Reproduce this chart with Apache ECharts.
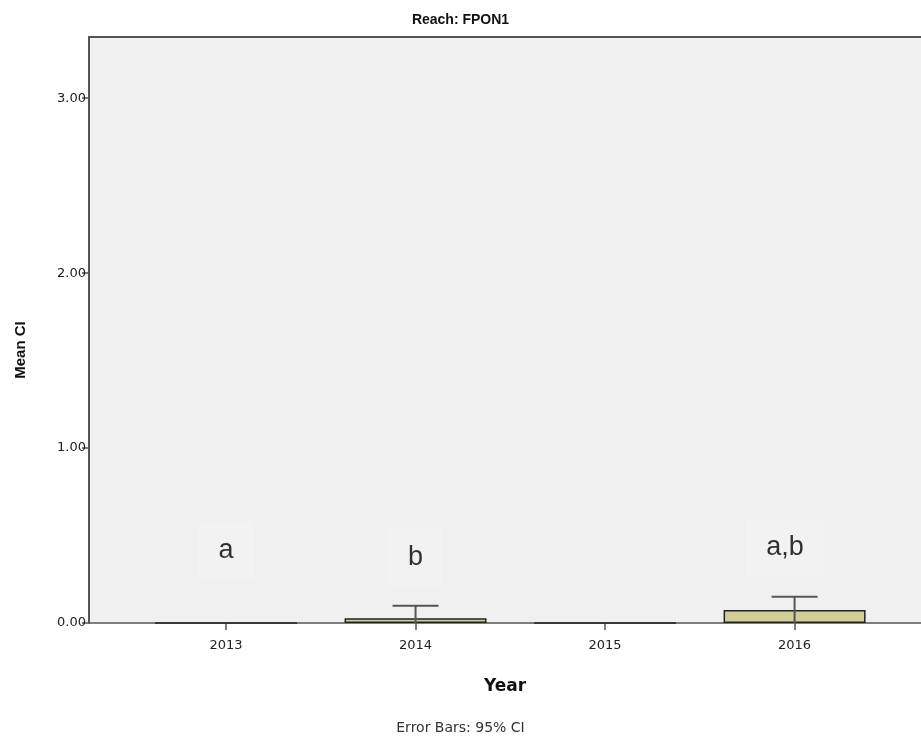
<!DOCTYPE html>
<html>
<head>
<meta charset="utf-8">
<script src="https://cdn.jsdelivr.net/npm/echarts@6/dist/echarts.min.js"></script>
<style>html,body{margin:0;padding:0;background:#fff}#c{width:921px;height:743px}</style>
</head>
<body>
<div id="c"></div>
<script>
const years = [2013, 2014, 2015, 2016];
const meanCI = [0, 0.027, 0, 0.074];
const ciUpper = [0, 0.099, 0, 0.15];
const ciLower = [0, -0.045, 0, -0.002];
const letterText = ['a', 'b', '', 'a,b'];
const letterX = [2013, 2014, 2015, 2015.95];
const letterY = [0.417, 0.377, 0, 0.43];
const yTicks = [0, 1, 2, 3];

const chart = echarts.init(document.getElementById('c'));
const letters = [];
for (let i = 0; i < years.length; i++) {
  if (letterText[i]) letters.push({ value: [letterX[i], letterY[i]], name: letterText[i] });
}
const axisCol = '#555';
chart.setOption({
  animation: false,
  backgroundColor: '#ffffff',
  title: {
    text: 'Reach: FPON1', left: 'center', top: 8,
    textStyle: { fontFamily: 'Liberation Sans Narrow, Liberation Sans, Arial', fontWeight: 'bold', fontSize: 14, color: '#111' }
  },
  grid: {
    left: 89, top: 37, right: 0, height: 586,
    show: true, backgroundColor: '#f0f0f0', borderWidth: 0
  },
  graphic: [
    { type: 'text', left: 'center', top: 721, style: { text: 'Error Bars: 95% CI', fontFamily: 'DejaVu Sans', fontSize: 14, fill: '#333' } },
    { type: 'text', x: 21, y: 350, rotation: Math.PI / 2, style: { text: 'Mean CI', fontFamily: 'Liberation Sans, Arial', fontWeight: 'bold', fontSize: 15, fill: '#111', align: 'center', verticalAlign: 'middle' } }
  ],
  xAxis: [{
    type: 'value', min: 2012.277, max: 2016.667,
    name: 'Year', nameLocation: 'middle', nameGap: 55,
    nameTextStyle: { fontFamily: 'DejaVu Sans', fontWeight: 'bold', fontSize: 17, color: '#111' },
    axisLine: { show: true, onZero: false, lineStyle: { color: axisCol, width: 1.5 } },
    axisTick: { show: true, customValues: years, length: 7, lineStyle: { color: axisCol, width: 1.5 } },
    axisLabel: { customValues: years, formatter: v => String(v), fontFamily: 'DejaVu Sans', fontSize: 13, color: '#222', margin: 16 },
    splitLine: { show: false }
  }, {
    type: 'value', position: 'top', min: 0, max: 1,
    axisLine: { show: true, onZero: false, lineStyle: { color: axisCol, width: 2 } },
    axisTick: { show: false }, axisLabel: { show: false }, splitLine: { show: false }
  }],
  yAxis: {
    type: 'value', min: 0, max: 3.35, interval: 1,
    axisLine: { show: true, lineStyle: { color: axisCol, width: 2 } },
    axisTick: { show: true, length: 7, lineStyle: { color: axisCol, width: 1.5 }, customValues: yTicks },
    axisLabel: { customValues: yTicks, formatter: v => v.toFixed(2), fontFamily: 'DejaVu Sans', fontSize: 13, color: '#222', margin: 3 },
    splitLine: { show: false }
  },
  series: [
    {
      type: 'bar', barWidth: 142,
      data: years.map((y, i) => [y, meanCI[i]]),
      itemStyle: { color: '#d3ce97', borderColor: '#222', borderWidth: 1.5 }
    },
    {
      type: 'custom', clip: true,
      data: years.map((y, i) => [y, ciLower[i], ciUpper[i]]),
      renderItem: function (params, api) {
        if (api.value(2) === api.value(1)) return null;
        const top = api.coord([api.value(0), api.value(2)]);
        const bot = api.coord([api.value(0), api.value(1)]);
        const hw = 23;
        const st = { stroke: '#555', lineWidth: 2 };
        return {
          type: 'group', children: [
            { type: 'line', shape: { x1: top[0], y1: top[1], x2: bot[0], y2: bot[1] }, style: st },
            { type: 'line', shape: { x1: top[0] - hw, y1: top[1], x2: top[0] + hw, y2: top[1] }, style: st }
          ]
        };
      },
      z: 3
    },
    {
      type: 'scatter', symbolSize: 0,
      data: letters,
      label: {
        show: true, position: 'inside', formatter: p => p.name,
        fontFamily: 'Liberation Sans, Arial', fontSize: 27, color: '#000',
        backgroundColor: '#f3f3f3', padding: [15, 20, 15, 20]
      },
      z: 4
    }
  ]
});
</script>
</body>
</html>
